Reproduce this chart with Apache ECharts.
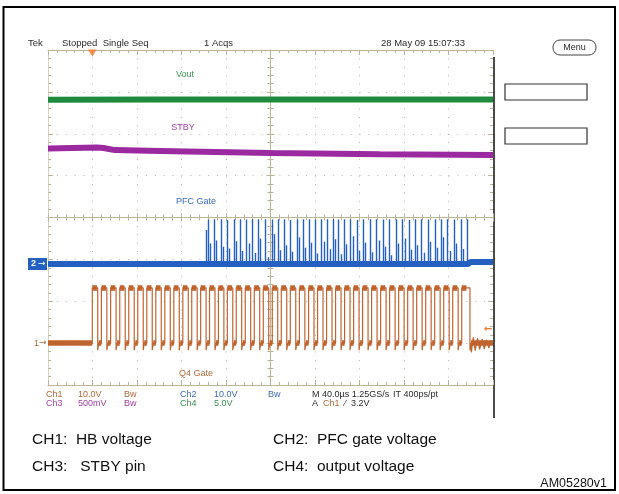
<!DOCTYPE html>
<html><head><meta charset="utf-8">
<script src="https://cdn.jsdelivr.net/npm/echarts@6/dist/echarts.min.js"></script>
<style>html,body{margin:0;padding:0;background:#fff}#c{width:619px;height:494px}</style>
</head><body><div id="c"></div>
<script>
// ---- data (time in µs from screen centre, level in screen divisions) ----
const voutTimes = [-200, -100, 0, 100, 200];
const voutLevels = [2.81, 2.82, 2.82, 2.82, 2.82];
const stbyTimes = [-200, -156, -150, -140, -99, 0, 98, 200];
const stbyLevels = [1.65, 1.67, 1.66, 1.61, 1.59, 1.54, 1.51, 1.49];
const pfcBaseTimes = [-200, 177.5, 180, 200];
const pfcBaseLevels = [-1.11, -1.11, -1.06, -1.06];
const pfcTallTimes = [-55.9,-50.5,-44.5,-38.8,-32.8,-27.4,-21.4,-16.0,-11.0,-4.3,1.6,7.0,12.4,17.5,23.6,29.5,34.9,40.0,46.0,51.4,56.2,61.3,66.1,72.1,78.0,83.4,89.4,95.5,101.4,106.8,112.8,118.8,124.8,129.9,135.9,141.9,147.9,153.3,159.3,165.2,171.2,177.3];
const pfcTallPeaks = [-0.05,-0.04,-0.04,-0.06,-0.04,-0.04,-0.05,-0.04,-0.04,-0.04,-0.05,-0.04,-0.04,-0.06,-0.04,-0.04,-0.04,-0.05,-0.04,-0.04,-0.04,-0.05,-0.04,-0.04,-0.06,-0.04,-0.04,-0.04,-0.05,-0.04,-0.04,-0.04,-0.06,-0.04,-0.04,-0.05,-0.04,-0.04,-0.04,-0.05,-0.04,-0.04];
const pfcShortTimes = [-58.2,-53.9,-48.4,-42.6,-36.8,-30.9,-25.4,-19.5,-14.0,-9.1,-2.4,3.5,8.9,14.3,19.4,25.5,31.4,36.8,41.9,47.9,53.3,58.1,63.2,68.0,74.0,79.9,85.3,91.3,97.4,103.3,108.7,114.7,120.7,126.7,131.8,137.8,143.8,149.8,155.2,161.2,167.1,173.1];
const pfcShortPeaks = [-0.30,-0.62,-0.55,-0.70,-0.74,-0.57,-0.80,-0.62,-0.85,-0.50,-0.95,-0.40,-0.78,-0.66,-0.82,-0.48,-0.72,-0.60,-0.86,-0.58,-0.76,-0.52,-0.88,-0.64,-0.45,-0.79,-0.60,-0.83,-0.55,-0.70,-0.90,-0.62,-0.50,-0.77,-0.66,-0.84,-0.58,-0.72,-0.47,-0.80,-0.62,-0.75];
const q4RiseTimes = [-160.2,-152.0,-143.7,-135.5,-127.4,-119.3,-111.2,-103.1,-95.0,-86.9,-78.8,-70.8,-62.8,-54.8,-46.8,-38.8,-30.8,-22.7,-14.6,-6.5,1.6,9.7,17.8,26.0,34.2,42.3,50.4,58.5,66.6,74.7,82.8,90.9,99.0,107.1,115.2,123.3,131.4,139.5,147.6,155.7,163.8,171.9];
const q4Levels = {low: -3.0, high: -1.68, under: -3.17};
const q4PulseWidth = 4.9;
const q4LastFall = 179.3;
const q4RingTimes = [180.5,182.3,184.0,186.1,188.0,190.2,192.1,194.3,196.2,198.4];
const q4RingLevels = [-3.22,-2.86,-3.18,-2.88,-3.15,-2.90,-3.14,-2.92,-3.12,-2.93];
const triggerTime = -160.2;
const trigLevel = -2.68;
const xTicks = {min: -200, max: 200, interval: 40};
const yTicks = {min: -4, max: 4, interval: 1};

// ---- build ----
const zip = (a, b) => a.map((v, i) => [v, b[i]]);
const C = {vout:'#1f8a3e', stby:'#9b2aa0', pfc:'#2460bf', q4:'#c0642f', tan:'#bdb498', dot:'#b4b4b4'};

const pfcSpikes = [];
pfcTallTimes.forEach((t, i) => pfcSpikes.push({coords: [[t, -1.11], [t, pfcTallPeaks[i]]]}));
pfcShortTimes.forEach((t, i) => pfcSpikes.push({coords: [[t, -1.11], [t, pfcShortPeaks[i]]]}));

const q4Edge = [[xTicks.min, q4Levels.low]];
const q4Plat = [];
let prev = xTicks.min;
q4RiseTimes.forEach((r, i) => {
  const f = i === q4RiseTimes.length - 1 ? q4LastFall : r + q4PulseWidth;
  q4Plat.push({coords: [[prev, q4Levels.low], [r, q4Levels.low]]});
  q4Plat.push({coords: [[r, q4Levels.high], [Math.min(f, r + 4.2), q4Levels.high]]});
  q4Edge.push([r, q4Levels.low], [r, q4Levels.high], [f, q4Levels.high], [f, q4Levels.under], [f + 0.9, q4Levels.low]);
  prev = f + 0.9;
});
q4Plat.push({coords: [[prev, q4Levels.low], [xTicks.max, q4Levels.low]]});
q4RingTimes.forEach((t, i) => q4Edge.push([t, q4RingLevels[i]]));
q4Edge.push([xTicks.max, q4Levels.low]);

const baseX = {type:'value', min:xTicks.min, max:xTicks.max, interval:xTicks.interval,
  axisLabel:{show:false}, splitLine:{show:false}};
const baseY = {type:'value', min:yTicks.min, max:yTicks.max, interval:yTicks.interval,
  axisLabel:{show:false}, splitLine:{show:false}};
const tick = (inside, len, mlen, color) => ({
  axisTick:{show:true, inside, length:len, lineStyle:{color, width:1}},
  minorTick:{show:true, splitNumber:5, length:mlen, lineStyle:{color, width:1}}
});

const chart = echarts.init(document.getElementById('c'), null, {renderer:'canvas'});
const font = '9.5px "Liberation Sans", Arial, sans-serif';
const txt = (text, x, y, fill, f, align) => ({type:'text', x, y, silent:true,
  style:{text, fill, font: f || font, textAlign: align || 'left', textVerticalAlign:'middle'}});

const option = {
  animation:false,
  backgroundColor:'#fff',
  grid:{left:48, top:50, width:445, height:335, show:false},
  xAxis:[
    Object.assign({}, baseX, {position:'bottom', axisLine:{show:true, onZero:false, lineStyle:{color:C.tan}},
      splitLine:{show:true, lineStyle:{color:C.dot, width:1, type:[1, 7.375]}}}, tick(true, 5, 3, C.tan)),
    Object.assign({}, baseX, {position:'top', axisLine:{show:true, onZero:false, lineStyle:{color:C.tan}}}, tick(true, 5, 3, C.tan)),
    Object.assign({}, baseX, {position:'bottom', axisLine:{show:true, onZero:true, onZeroAxisIndex:0, lineStyle:{color:C.tan}}}, tick(true, 4, 3, C.tan)),
    Object.assign({}, baseX, {position:'top', axisLine:{show:true, onZero:true, onZeroAxisIndex:0, lineStyle:{color:C.tan}}}, tick(true, 4, 3, C.tan))
  ],
  yAxis:[
    Object.assign({}, baseY, {position:'left', axisLine:{show:true, onZero:false, lineStyle:{color:'#d8d2bf'}},
      splitLine:{show:true, lineStyle:{color:C.dot, width:1, type:[1, 7.9]}}}, tick(true, 5, 3, C.tan)),
    Object.assign({}, baseY, {position:'right', axisLine:{show:false, onZero:false}}, tick(true, 5, 3, C.tan)),
    Object.assign({}, baseY, {position:'left', axisLine:{show:true, onZero:true, onZeroAxisIndex:0, lineStyle:{color:C.tan}}}, tick(true, 4, 3, C.tan)),
    Object.assign({}, baseY, {position:'right', axisLine:{show:true, onZero:true, onZeroAxisIndex:0, lineStyle:{color:C.tan}}}, tick(true, 4, 3, C.tan))
  ],
  series:[
    {type:'line', name:'Vout', data:zip(voutTimes, voutLevels), showSymbol:false, lineStyle:{color:C.vout, width:6}, z:3},
    {type:'line', name:'STBY', data:zip(stbyTimes, stbyLevels), showSymbol:false, lineStyle:{color:C.stby, width:6}, z:3},
    {type:'line', name:'PFC', data:zip(pfcBaseTimes, pfcBaseLevels), showSymbol:false, lineStyle:{color:C.pfc, width:6}, z:3},
    {type:'lines', coordinateSystem:'cartesian2d', data:pfcSpikes, lineStyle:{color:C.pfc, width:1.4, opacity:1}, z:3},
    {type:'lines', coordinateSystem:'cartesian2d', data:q4Plat, lineStyle:{color:C.q4, width:5.5, opacity:1}, z:3},
    {type:'line', name:'Q4', data:q4Edge, showSymbol:false, lineStyle:{color:C.q4, width:1.2}, z:4},
    {type:'scatter', data:[[triggerTime, yTicks.max]], symbol:'triangle', symbolRotate:180, symbolSize:[9,7],
      symbolOffset:[0, 3], itemStyle:{color:'#ef7a2c'}, clip:false, z:5}
  ]
};
chart.setOption(option);

const py = v => chart.convertToPixel({yAxisIndex:0}, v);
const yPfc = py(pfcBaseLevels[0]), yQ4 = py(q4Levels.low), yTrig = py(trigLevel);
const dark = '#2a2a2a';
const small = '9px "Liberation Sans", Arial, sans-serif';
const arrowFont = '9px "DejaVu Sans", sans-serif';
const legendFont = '15.5px "Liberation Sans", Arial, sans-serif';
chart.setOption({graphic:[
  {type:'rect', shape:{x:3.5, y:7, width:611.5, height:483}, style:{fill:'none', stroke:'#000', lineWidth:2}, silent:true},
  {type:'line', shape:{x1:494, y1:57, x2:494, y2:418}, style:{stroke:'#111', lineWidth:1.5}, silent:true},
  {type:'rect', shape:{x:553, y:40, width:43, height:15, r:7}, style:{fill:'#fff', stroke:'#444', lineWidth:1}, silent:true},
  txt('Menu', 574.5, 47.5, dark, small, 'center'),
  {type:'rect', shape:{x:505, y:84, width:82, height:16}, style:{fill:'#fff', stroke:'#333', lineWidth:1.2}, silent:true},
  {type:'rect', shape:{x:505, y:128, width:82, height:16}, style:{fill:'#fff', stroke:'#333', lineWidth:1.2}, silent:true},
  txt('Tek', 28, 43, dark),
  txt('Stopped  Single Seq', 62, 43, dark),
  txt('1 Acqs', 204, 43, dark),
  txt('28 May 09 15:07:33', 381, 43, dark),
  txt('Vout', 185, 75, '#3a9a55', small, 'center'),
  txt('STBY', 183, 128, '#a040a8', small, 'center'),
  txt('PFC Gate', 196, 202, '#3a6ac0', small, 'center'),
  txt('Q4 Gate', 196, 374, '#b8693a', small, 'center'),
  {type:'rect', shape:{x:28, y:yPfc - 6, width:19, height:12}, style:{fill:C.pfc}, silent:true},
  txt('2', 31, yPfc, '#fff', 'bold 9px "Liberation Sans", Arial'),
  txt('\u2192', 38, yPfc, '#fff', arrowFont),
  txt('1', 34, yQ4, '#b8693a', small),
  txt('\u2192', 39, yQ4, '#b8693a', arrowFont),
  txt('\u2190', 488, yTrig, '#ef7a2c', 'bold 10px "DejaVu Sans", sans-serif', 'center'),
  txt('Ch1', 46, 395, '#b5653a', small), txt('10.0V', 78, 395, '#b5653a', small), txt('Bw', 124, 395, '#b5653a', small),
  txt('Ch2', 180, 395, '#3a6ab8', small), txt('10.0V', 214, 395, '#3a6ab8', small), txt('Bw', 268, 395, '#3a6ab8', small),
  txt('M 40.0µs 1.25GS/s', 312, 395, dark, small), txt('IT 400ps/pt', 393, 395, dark, small),
  txt('Ch3', 46, 404, '#a040a8', small), txt('500mV', 78, 404, '#a040a8', small), txt('Bw', 124, 404, '#a040a8', small),
  txt('Ch4', 180, 404, '#3a9050', small), txt('5.0V', 214, 404, '#3a9050', small),
  {type:'text', x:312, y:404, silent:true, style:{text:'{a|A}  {b|Ch1}  {a|\u2215  3.2V}', font:small, textVerticalAlign:'middle',
    rich:{a:{fill:dark, font:small}, b:{fill:'#b5653a', font:small}}}},
  txt('CH1:  HB voltage', 32, 440, '#111', legendFont),
  txt('CH2:  PFC gate voltage', 273, 440, '#111', legendFont),
  txt('CH3:   STBY pin', 32, 467, '#111', legendFont),
  txt('CH4:  output voltage', 273, 467, '#111', legendFont),
  txt('AM05280v1', 607, 484, '#111', '12.5px "Liberation Sans", Arial, sans-serif', 'right')
]});
</script>
</body></html>
